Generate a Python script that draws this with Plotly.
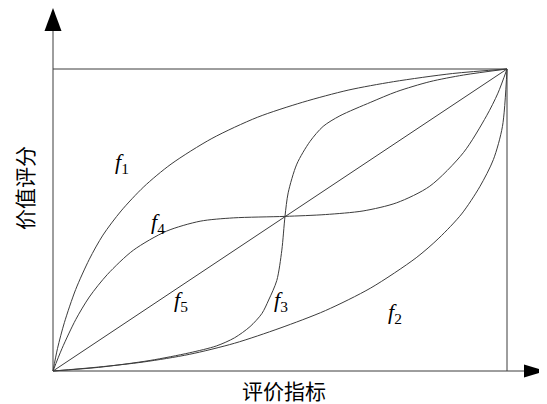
import plotly.graph_objects as go

# normalised curve points (评价指标 u, 价值评分 v)
f1_u = [0, 0.01, 0.025, 0.05, 0.08, 0.11, 0.15, 0.2, 0.26, 0.35, 0.45, 0.55, 0.65, 0.75, 0.88, 1.0]
f1_v = [0, 0.075, 0.16, 0.27, 0.37, 0.45, 0.53, 0.61, 0.685, 0.77, 0.84, 0.89, 0.93, 0.958, 0.985, 1.0]

f2_u = [0, 0.1, 0.2, 0.3, 0.4, 0.5, 0.6, 0.7, 0.8, 0.85, 0.9, 0.94, 0.97, 0.99, 1.0]
f2_v = [0, 0.013, 0.03, 0.055, 0.092, 0.142, 0.20, 0.275, 0.375, 0.44, 0.52, 0.61, 0.70, 0.81, 1.0]

f3_u = [0, 0.1, 0.214, 0.30, 0.36, 0.40, 0.434, 0.46, 0.475, 0.493, 0.504, 0.511, 0.518, 0.537, 0.566, 0.595, 0.632, 0.70, 0.757, 0.83, 0.904, 1.0]
f3_v = [0, 0.012, 0.035, 0.06, 0.083, 0.11, 0.147, 0.19, 0.235, 0.30, 0.40, 0.512, 0.59, 0.685, 0.76, 0.81, 0.845, 0.89, 0.925, 0.958, 0.98, 1.0]

f4_u = [0, 0.02, 0.05, 0.08, 0.12, 0.177, 0.25, 0.324, 0.397, 0.511, 0.60, 0.683, 0.757, 0.83, 0.904, 0.955, 0.98, 1.0]
f4_v = [0, 0.075, 0.17, 0.245, 0.32, 0.40, 0.463, 0.496, 0.507, 0.512, 0.518, 0.53, 0.557, 0.612, 0.723, 0.845, 0.92, 1.0]

f5_u = [0, 1.0]
f5_v = [0, 1.0]

OFF = 8               # page margin of the html body
W, H = 547 - OFF, 404 - OFF
X0, X1 = 53, 507      # pixel x of u=0 and u=1 (window coords)
Y0, Y1 = 371, 69      # pixel y of v=0 and v=1
LINE = "#3c3c3c"


def px(x):
    return (x - OFF) / W


def py(y):
    return 1 - (y - OFF) / H


fig = go.Figure()
for u, v in [(f1_u, f1_v), (f2_u, f2_v), (f3_u, f3_v), (f4_u, f4_v), (f5_u, f5_v)]:
    fig.add_trace(go.Scatter(x=u, y=v, mode="lines",
                             line=dict(color=LINE, width=1, shape="spline", smoothing=0.8),
                             hoverinfo="skip", showlegend=False))

sx = X1 - X0
sy = Y0 - Y1
fig.update_xaxes(range=[-(X0 - OFF) / sx, (W - (X0 - OFF)) / sx], visible=False, fixedrange=True)
fig.update_yaxes(range=[-(H - (Y0 - OFF)) / sy, (Y0 - OFF) / sy], visible=False, fixedrange=True)

shapes = [
    # axes
    dict(type="line", xref="paper", yref="paper", x0=px(X0), y0=py(Y0), x1=px(X0), y1=py(30), line=dict(color=LINE, width=1)),
    dict(type="line", xref="paper", yref="paper", x0=px(X0), y0=py(Y0), x1=px(526), y1=py(Y0), line=dict(color=LINE, width=1)),
    # frame
    dict(type="line", xref="x", yref="y", x0=0, y0=1, x1=1, y1=1, line=dict(color=LINE, width=1)),
    dict(type="line", xref="x", yref="y", x0=1, y0=1, x1=1, y1=0, line=dict(color=LINE, width=1)),
    # arrow heads
    dict(type="path", xref="paper", yref="paper",
         path=f"M {px(53)} {py(8)} L {px(44.5)} {py(31)} L {px(61.5)} {py(31)} Z",
         fillcolor="black", line=dict(color="black", width=0)),
    dict(type="path", xref="paper", yref="paper",
         path=f"M {px(546)} {py(371)} L {px(524)} {py(364.5)} L {px(524)} {py(377.5)} Z",
         fillcolor="black", line=dict(color="black", width=0)),
]

labels = [("1", 122, 163), ("4", 158, 223), ("5", 181, 301), ("3", 281, 301), ("2", 395, 313)]
annotations = []
for sub, x, y in labels:
    annotations.append(dict(xref="paper", yref="paper", x=px(x), y=py(y),
                            xanchor="center", yanchor="middle",
                            text=f"<i>f</i><sub>{sub}</sub>", showarrow=False,
                            font=dict(family="Liberation Serif", size=22, color="black")))

annotations.append(dict(xref="paper", yref="paper", x=px(284), y=py(390), xanchor="center", yanchor="middle",
                        text="评价指标", showarrow=False,
                        font=dict(family="Noto Sans CJK SC", size=21, color="black")))
annotations.append(dict(xref="paper", yref="paper", x=px(24), y=py(188), xanchor="center", yanchor="middle",
                        text="价值评分", textangle=-90, showarrow=False,
                        font=dict(family="Noto Sans CJK SC", size=21, color="black")))

fig.update_layout(width=W, height=H, margin=dict(l=0, r=0, t=0, b=0),
                  plot_bgcolor="white", paper_bgcolor="white",
                  shapes=shapes, annotations=annotations)

fig.write_html("out.html")
